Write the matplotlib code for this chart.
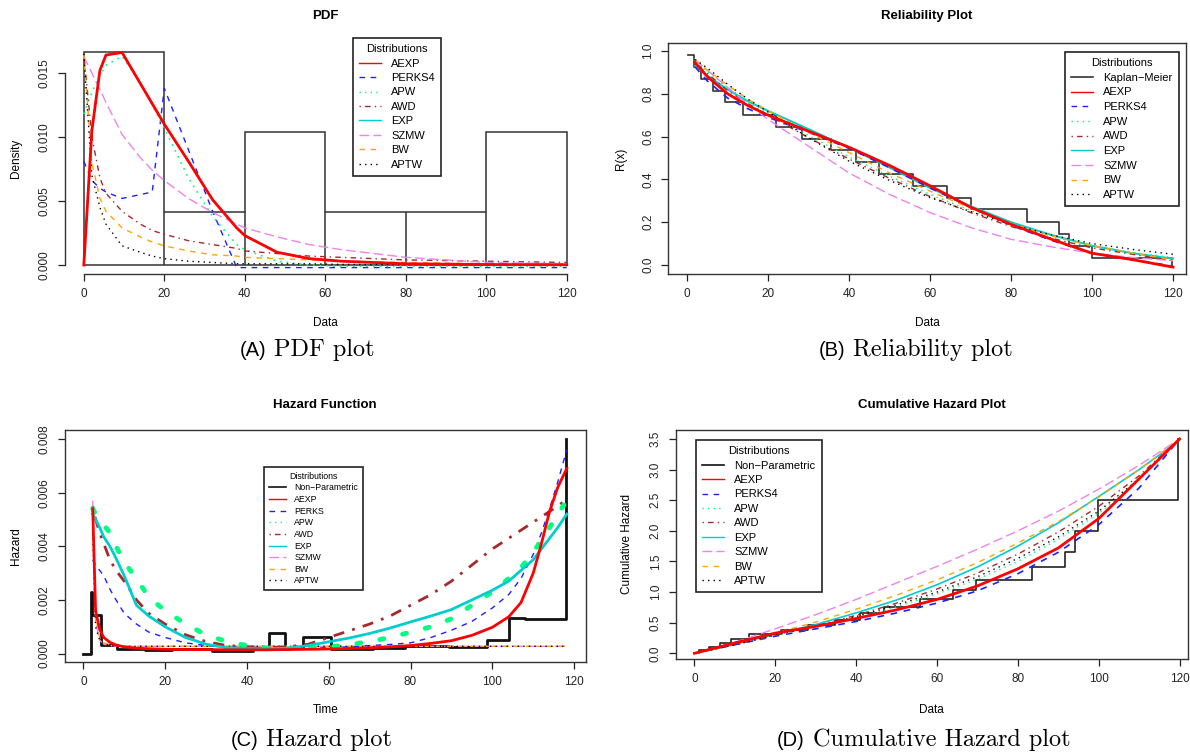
import matplotlib
matplotlib.use('Agg')
from matplotlib import pyplot as plt
from matplotlib.lines import Line2D

W, H = 1190, 754

# ---------------- (A) PDF ----------------
hist_bordes = [0, 20, 40, 60, 80, 100, 120]
hist_densidad = [0.01667, 0.00417, 0.01042, 0.00417, 0.00417, 0.01042]

pdf_x = [0, 2, 4, 5.5, 9.5, 14, 17, 20, 26, 32, 38, 40, 48, 56, 64, 80, 100, 120]
pdf_aexp = [0, 0.0105, 0.0152, 0.0164, 0.0166, 0.0142, 0.0126, 0.0110, 0.0081, 0.0051, 0.0029, 0.0023,
            0.0010, 0.0005, 0.0003, 0.0001, 0.00004, 0.00002]
pdf_perks4 = [0.0081, 0.0066, 0.0060, 0.0057, 0.0052, 0.0055, 0.0057, 0.0138, 0.0090, 0.0042, -0.0002,
              -0.0002, -0.0002, -0.0002, -0.0002, -0.0002, -0.0002, -0.0002]
pdf_apw = [0.0118, 0.0135, 0.0148, 0.0156, 0.0163, 0.0143, 0.0125, 0.0107, 0.0068, 0.0038, 0.0016, 0.0012,
           0.0003, 0.0, -0.0001, -0.0001, -0.0001, -0.0001]
pdf_awd = [0.0165, 0.0100, 0.0068, 0.0056, 0.0042, 0.0032, 0.0027, 0.0024, 0.0019, 0.0016, 0.0013, 0.0011,
           0.0009, 0.0007, 0.0006, 0.0004, 0.0003, 0.0002]
pdf_exp = pdf_aexp
pdf_szmw = [0.0163, 0.0150, 0.0137, 0.0127, 0.0102, 0.0084, 0.0074, 0.0066, 0.0052, 0.0041, 0.0032, 0.0029,
            0.0022, 0.0016, 0.0012, 0.0006, 0.0002, 0.0001]
pdf_bw = [0.0165, 0.0080, 0.0052, 0.0042, 0.0029, 0.0022, 0.0018, 0.0015, 0.0011, 0.0008, 0.0007, 0.0006,
          0.0005, 0.0004, 0.0003, 0.0002, 0.0001, 0.0001]
pdf_aptw = [0.0165, 0.0070, 0.0045, 0.0032, 0.0015, 0.0010, 0.0007, 0.0005, 0.0003, 0.0002, 0.0001, 0.0001,
            0.0001, 0.0001, 0.00005, 0.00003, 0.00002, 0.00001]

# ---------------- (B) Reliability ----------------
km_t = [0.2, 1.8, 3.5, 6.3, 9.3, 13.9, 21.9, 28.4, 35.5, 41.6, 47.4, 55.9, 64.2, 70.2, 83.9, 91.8, 94.3,
        99.9, 119.8]
km_s = [0.98, 0.925, 0.87, 0.815, 0.76, 0.70, 0.645, 0.59, 0.535, 0.48, 0.425, 0.37, 0.315, 0.26, 0.20,
        0.145, 0.09, 0.035, 0.0]

rel_x = [2, 5, 10, 15, 20, 30, 40, 50, 60, 70, 80, 90, 100, 110, 120]
rel_aexp = [0.945, 0.88, 0.80, 0.745, 0.70, 0.625, 0.55, 0.465, 0.37, 0.27, 0.19, 0.12, 0.055, 0.025, -0.01]
rel_perks4 = [0.925, 0.86, 0.78, 0.73, 0.69, 0.62, 0.545, 0.455, 0.36, 0.27, 0.185, 0.115, 0.055, 0.025, -0.005]
rel_apw = [0.95, 0.905, 0.83, 0.765, 0.71, 0.605, 0.505, 0.415, 0.33, 0.255, 0.19, 0.135, 0.09, 0.058, 0.035]
rel_awd = [0.94, 0.895, 0.815, 0.755, 0.70, 0.595, 0.495, 0.405, 0.32, 0.245, 0.18, 0.125, 0.08, 0.05, 0.02]
rel_exp = [0.93, 0.885, 0.82, 0.765, 0.72, 0.635, 0.548, 0.455, 0.36, 0.275, 0.2, 0.14, 0.09, 0.055, 0.03]
rel_szmw = [0.96, 0.91, 0.83, 0.75, 0.68, 0.555, 0.43, 0.33, 0.245, 0.175, 0.12, 0.085, 0.055, 0.035, 0.02]
rel_bw = [0.955, 0.91, 0.84, 0.775, 0.72, 0.62, 0.525, 0.43, 0.345, 0.265, 0.195, 0.135, 0.09, 0.055, 0.025]
rel_aptw = [0.96, 0.92, 0.845, 0.775, 0.715, 0.595, 0.485, 0.395, 0.315, 0.25, 0.19, 0.14, 0.1, 0.073, 0.05]

# ---------------- (C) Hazard ----------------
npz_t = [0, 1.8, 2.2, 4.3, 8.3, 15.2, 21.6, 31.4, 41.4, 45.3, 49.3, 53.6, 60.5, 70.8, 78.6, 89.5, 98.6,
         104.0, 108.0, 113.0, 118.0]
npz_h = [0, 0.0023, 0.00145, 0.00031, 0.00017, 0.00013, 0.00018, 0.00008, 0.0002, 0.00075, 0.0002, 0.0006,
         0.00017, 0.00022, 0.0003, 0.00024, 0.00052, 0.00134, 0.00128, 0.0013, 0.008]

haz_x = [2.3, 3, 4, 5, 6.5, 8, 10, 13, 16, 20, 25, 30, 35, 40, 45, 50, 55, 60, 65, 70, 75, 80, 85, 90, 95,
         100, 104, 107, 110, 112, 114, 116, 118.2]
haz_aexp = [0.0054, 0.0016, 0.0009, 0.0006, 0.00042, 0.00032, 0.00025, 0.0002, 0.00018, 0.00016, 0.00015,
            0.00015, 0.00014, 0.00014, 0.00014, 0.00015, 0.00016, 0.00017, 0.00019, 0.00021, 0.00025, 0.0003,
            0.00038, 0.00048, 0.00068, 0.00098, 0.00137, 0.0019, 0.0030, 0.0041, 0.0053, 0.0062, 0.0069]
haz_perks = [0.0035, 0.0033, 0.0031, 0.0029, 0.0024, 0.0020, 0.0015, 0.0011, 0.0008, 0.0006, 0.0004, 0.0003,
             0.00025, 0.0002, 0.0002, 0.0002, 0.0002, 0.00022, 0.00025, 0.0003, 0.00034, 0.0004, 0.0006,
             0.00087, 0.0012, 0.0017, 0.0022, 0.0028, 0.0037, 0.0045, 0.0054, 0.0064, 0.0076]
haz_apw = [0.0054, 0.0052, 0.0050, 0.0048, 0.0045, 0.0040, 0.0034, 0.0028, 0.0021, 0.0016, 0.0011, 0.0007,
           0.00045, 0.0003, 0.0002, 0.00018, 0.0002, 0.00025, 0.00033, 0.00045, 0.0006, 0.0008, 0.001,
           0.0013, 0.0018, 0.0023, 0.0028, 0.0032, 0.0038, 0.0042, 0.0047, 0.0052, 0.0057]
haz_awd = [0.0055, 0.0050, 0.0045, 0.0041, 0.0035, 0.0031, 0.0027, 0.0020, 0.0015, 0.0011, 0.0007, 0.00045,
           0.0003, 0.00025, 0.00023, 0.00025, 0.00035, 0.0006, 0.00085, 0.0011, 0.0014, 0.0018, 0.0022,
           0.0027, 0.0033, 0.0039, 0.0043, 0.0046, 0.0049, 0.0051, 0.0053, 0.0055, 0.00575]
haz_exp = [0.0052, 0.0050, 0.0047, 0.00435, 0.0040, 0.00355, 0.0029, 0.0018, 0.0014, 0.0010, 0.0006,
           0.00035, 0.00022, 0.00019, 0.00018, 0.0002, 0.0003, 0.00044, 0.00058, 0.00075, 0.00095, 0.00118,
           0.0014, 0.00164, 0.002, 0.00236, 0.0027, 0.0031, 0.0035, 0.0039, 0.0043, 0.0047, 0.0052]
haz_szmw = [0.0057, 0.0012, 0.0005, 0.00035, 0.0003, 0.00028, 0.00027, 0.00027, 0.00027, 0.00027, 0.00027,
            0.00027, 0.00027, 0.00027, 0.00027, 0.00027, 0.00027, 0.00027, 0.00027, 0.00027, 0.00027,
            0.00027, 0.00027, 0.00027, 0.00027, 0.00027, 0.00027, 0.00027, 0.00027, 0.00027, 0.00027,
            0.00027, 0.00027]
haz_bw = [0.0053, 0.0014, 0.0006, 0.0004, 0.00033, 0.0003, 0.00028, 0.00027, 0.00027, 0.00027, 0.00027,
          0.00027, 0.00027, 0.00027, 0.00027, 0.00027, 0.00027, 0.00027, 0.00027, 0.00027, 0.00027,
          0.00027, 0.00027, 0.00027, 0.00027, 0.00027, 0.00027, 0.00027, 0.00027, 0.00027, 0.00027,
          0.00027, 0.00027]
haz_aptw = [0.0045, 0.0010, 0.0005, 0.00035, 0.0003, 0.00028, 0.00027, 0.00027, 0.00027, 0.00027, 0.00027,
            0.00027, 0.00027, 0.00027, 0.00027, 0.00027, 0.00027, 0.00027, 0.00027, 0.00027, 0.00027,
            0.00027, 0.00027, 0.00027, 0.00027, 0.00027, 0.00027, 0.00027, 0.00027, 0.00027, 0.00027,
            0.00027, 0.00027]

# ---------------- (D) Cumulative hazard ----------------
npc_t = [0, 1.0, 3.5, 6.3, 9.0, 13.5, 21.3, 28.1, 34.8, 41.0, 47.0, 55.7, 63.9, 69.7, 83.4, 91.6, 94.2,
         99.8, 119.6]
npc_h = [0, 0.05, 0.11, 0.17, 0.24, 0.31, 0.38, 0.46, 0.55, 0.66, 0.76, 0.88, 1.03, 1.20, 1.41, 1.66, 2.0,
         2.5, 3.5]

cum_x = [0, 10, 20, 30, 40, 50, 60, 70, 80, 90, 100, 110, 120]
cum_aexp = [0, 0.17, 0.33, 0.44, 0.57, 0.71, 0.88, 1.10, 1.38, 1.72, 2.20, 2.85, 3.5]
cum_perks4 = [0, 0.14, 0.28, 0.40, 0.52, 0.66, 0.82, 1.02, 1.30, 1.65, 2.10, 2.70, 3.5]
cum_apw = [0, 0.14, 0.29, 0.43, 0.58, 0.76, 0.97, 1.21, 1.50, 1.86, 2.28, 2.82, 3.5]
cum_awd = [0, 0.14, 0.30, 0.45, 0.62, 0.82, 1.05, 1.31, 1.62, 1.98, 2.40, 2.90, 3.5]
cum_exp = [0, 0.15, 0.31, 0.47, 0.66, 0.87, 1.12, 1.41, 1.75, 2.13, 2.56, 3.0, 3.48]
cum_szmw = [0, 0.18, 0.40, 0.63, 0.88, 1.15, 1.42, 1.70, 2.0, 2.32, 2.68, 3.07, 3.5]
cum_bw = [0, 0.15, 0.33, 0.51, 0.72, 0.95, 1.2, 1.48, 1.8, 2.15, 2.55, 3.0, 3.5]
cum_aptw = [0, 0.14, 0.30, 0.44, 0.60, 0.79, 1.0, 1.25, 1.55, 1.9, 2.32, 2.85, 3.5]

nombres = ['AEXP', 'PERKS4', 'APW', 'AWD', 'EXP', 'SZMW', 'BW', 'APTW']
colores = ['#ff0000', '#1f1fff', '#00ff7f', '#a52a2a', '#00cdcd', '#ee82ee', '#ffa500', '#000000']
trazos = ['-', (0, (4, 4)), (0, (1, 3)), (0, (1, 3, 4, 3)), '-', (0, (7, 3)), (0, (4, 4)), (0, (1, 3))]

plt.rcParams['font.family'] = ['Liberation Sans', 'DejaVu Sans']
plt.rcParams['axes.linewidth'] = 1.0


def caja(izq, arriba, der, abajo):
    return [izq / W, 1 - abajo / H, (der - izq) / W, (abajo - arriba) / H]


def ejesR(ax, ticksY, fmt, marco=True):
    ax.set_xticks([0, 20, 40, 60, 80, 100, 120])
    ax.set_yticks(ticksY)
    ax.set_yticklabels([fmt % v for v in ticksY], rotation=90, va='center')
    ax.tick_params(direction='out', length=5, width=0.9, labelsize=8.5, pad=5, colors='#222222')
    for s in ax.spines.values():
        s.set_color('#333333')
    if not marco:
        ax.spines['top'].set_visible(False)
        ax.spines['right'].set_visible(False)
        ax.spines['left'].set_bounds(ticksY[0], ticksY[-1])
        ax.spines['bottom'].set_bounds(0, 120)


def leyenda(ax, handles, etiquetas, ancla, tam, espacio):
    ley = ax.legend(handles, etiquetas, title='Distributions', loc='upper left', bbox_to_anchor=ancla,
                    fontsize=tam, title_fontsize=tam, frameon=True, fancybox=False, framealpha=1,
                    edgecolor='#222222', handlelength=2.0, handletextpad=0.9, borderpad=0.55,
                    labelspacing=espacio, borderaxespad=0)
    ley.get_frame().set_linewidth(1.2)
    return ley


def manijas(grosores):
    return [Line2D([], [], color=c, ls=t, lw=g) for c, t, g in zip(colores, trazos, grosores)]


fig = plt.figure(figsize=(W / 100, H / 100), dpi=100)

# ---- (A) ----
ax = fig.add_axes(caja(64.5, 43, 586, 274))
ax.set_xlim(-4.8, 124.8)
ax.set_ylim(-0.0007, 0.01734)
ax.stairs(hist_densidad, hist_bordes, color='#333333', lw=1.1, baseline=0, zorder=1)
ax.vlines(hist_bordes[1:-1], 0, [min(a, b) for a, b in zip(hist_densidad[:-1], hist_densidad[1:])],
          color='#333333', lw=1.1, zorder=1)
ax.hlines(0, 0, 120, color='#333333', lw=1.1, zorder=1)
curvas = [pdf_aexp, pdf_perks4, pdf_apw, pdf_awd, pdf_exp, pdf_szmw, pdf_bw, pdf_aptw]
grosA = [2.0, 1.0, 1.2, 1.0, 1.0, 1.0, 1.0, 1.0]
orden = [4, 1, 2, 3, 5, 6, 7, 0]
for i in orden:
    ax.plot(pdf_x, curvas[i], color=colores[i], ls=trazos[i], lw=grosA[i], zorder=3 + (i == 0))
ejesR(ax, [0.0, 0.005, 0.010, 0.015], '%.3f', marco=False)
ax.set_title('PDF', fontsize=9.5, fontweight='bold', pad=17)
ax.set_xlabel('Data', fontsize=8.5)
ax.set_ylabel('Density', fontsize=8.5)
ax.xaxis.set_label_coords(0.5, -0.186)
ax.yaxis.set_label_coords(-0.081, 0.5)
leyenda(ax, manijas([1.0] * 8), nombres, ((353 - 64.5) / 521.5, (274 - 38) / 231), 8, 0.4)

# ---- (B) ----
ax = fig.add_axes(caja(668, 43, 1186, 274))
ax.set_xlim(-4.7, 123.2)
ax.set_ylim(-0.042, 1.037)
ax.step(km_t, km_s, where='post', color='#333333', lw=1.2, zorder=2)
curvas = [rel_aexp, rel_perks4, rel_apw, rel_awd, rel_exp, rel_szmw, rel_bw, rel_aptw]
grosB = [2.0, 1.2, 1.0, 1.0, 1.4, 1.0, 1.0, 1.0]
for i in orden:
    ax.plot(rel_x, curvas[i], color=colores[i], ls=trazos[i], lw=grosB[i], zorder=3 + (i == 0))
ejesR(ax, [0.0, 0.2, 0.4, 0.6, 0.8, 1.0], '%.1f')
ax.set_title('Reliability Plot', fontsize=9.5, fontweight='bold', pad=17)
ax.set_xlabel('Data', fontsize=8.5)
ax.set_ylabel('R(x)', fontsize=8.5)
ax.xaxis.set_label_coords(0.5, -0.186)
ax.yaxis.set_label_coords(-0.08, 0.5)
km = Line2D([], [], color='#333333', lw=1.2)
leyenda(ax, [km] + manijas([1.0] * 8), ['Kaplan\u2212Meier'] + nombres,
        ((1065 - 668) / 518, (274 - 52) / 231), 8, 0.42)

# ---- (C) ----
ax = fig.add_axes(caja(64.5, 430, 586, 662))
ax.set_xlim(-4.6, 122.9)
ax.set_ylim(-0.000314, 0.008335)
ax.step(npz_t, npz_h, where='post', color='#111111', lw=2.0, zorder=2)
curvas = [haz_aexp, haz_perks, haz_apw, haz_awd, haz_exp, haz_szmw, haz_bw, haz_aptw]
grosC = [2.0, 1.0, 3.5, 2.0, 2.0, 1.0, 1.0, 1.0]
trazosC = list(trazos)
trazosC[2] = (0, (0.8, 4))
ordenC = [5, 6, 7, 3, 1, 2, 4, 0]
for i in ordenC:
    ax.plot(haz_x, curvas[i], color=colores[i], ls=trazosC[i], lw=grosC[i], zorder=3 + (i == 0),
            dash_capstyle='round' if i == 2 else 'butt')
ejesR(ax, [0.0, 0.002, 0.004, 0.006, 0.008], '%.3f')
ax.set_title('Hazard Function', fontsize=9.5, fontweight='bold', pad=16)
ax.set_xlabel('Time', fontsize=8.5)
ax.set_ylabel('Hazard', fontsize=8.5)
ax.xaxis.set_label_coords(0.5, -0.181)
ax.yaxis.set_label_coords(-0.081, 0.5)
nph = Line2D([], [], color='#111111', lw=1.2)
etiqC = ['Non\u2212Parametric', 'AEXP', 'PERKS', 'APW', 'AWD', 'EXP', 'SZMW', 'BW', 'APTW']
leyenda(ax, [nph] + manijas([1.0] * 8), etiqC, ((264 - 64.5) / 521.5, (662 - 467) / 232), 6.3, 0.3)

# ---- (D) ----
ax = fig.add_axes(caja(675.5, 430, 1188, 659))
ax.set_xlim(-4.7, 122.1)
ax.set_ylim(-0.093, 3.647)
ax.step(npc_t, npc_h, where='post', color='#222222', lw=1.2, zorder=2)
curvas = [cum_aexp, cum_perks4, cum_apw, cum_awd, cum_exp, cum_szmw, cum_bw, cum_aptw]
grosD = [2.0, 1.2, 1.0, 1.0, 1.2, 1.0, 1.0, 1.0]
for i in orden:
    ax.plot(cum_x, curvas[i], color=colores[i], ls=trazos[i], lw=grosD[i], zorder=3 + (i == 0))
ejesR(ax, [0.0, 0.5, 1.0, 1.5, 2.0, 2.5, 3.0, 3.5], '%.1f')
ax.set_title('Cumulative Hazard Plot', fontsize=9.5, fontweight='bold', pad=16)
ax.set_xlabel('Data', fontsize=8.5)
ax.set_ylabel('Cumulative Hazard', fontsize=8.5)
ax.xaxis.set_label_coords(0.5, -0.197)
ax.yaxis.set_label_coords(-0.083, 0.5)
npc = Line2D([], [], color='#111111', lw=1.2)
leyenda(ax, [npc] + manijas([1.0] * 8), ['Non\u2212Parametric'] + nombres,
        ((696 - 675.5) / 512.5, (659 - 440) / 229), 8, 0.4)

# ---- captions ----
pies = [(266, 350, '(A)', 'PDF plot'), (845, 350, '(B)', 'Reliability plot'),
        (258, 740, '(C)', 'Hazard plot'), (805, 740, '(D)', 'Cumulative Hazard plot')]
for x, y, letra, texto in pies:
    fig.text(x / W, 1 - y / H, letra, ha='right', va='center', fontsize=14.5)
    fig.text((x + 8) / W, 1 - y / H, texto, ha='left', va='center', fontsize=17.5, family='cmr10')

fig.savefig('out.png', dpi=100)
